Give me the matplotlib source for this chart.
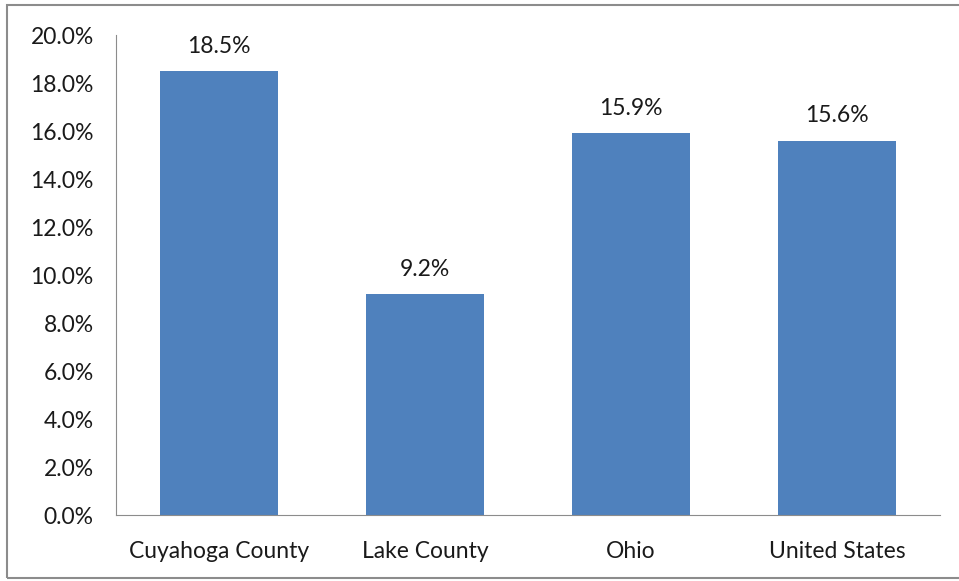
import matplotlib.pyplot as plt
from matplotlib.patches import Rectangle
from matplotlib.ticker import FuncFormatter

plt.rcParams['font.family'] = ['Lato', 'DejaVu Sans']
plt.rcParams['font.size'] = 16.5

regions = ['Cuyahoga County', 'Lake County', 'Ohio', 'United States']
rates = [18.5, 9.2, 15.9, 15.6]

fig = plt.figure(figsize=(9.59, 5.81), dpi=100)
ax = fig.add_axes([116 / 959, 1 - 515 / 581, (940 - 116) / 959, (515 - 35) / 581])

# outer chart frame
fig.patches.append(Rectangle((7 / 959, 3 / 581), 1.0, 1 - 8 / 581, transform=fig.transFigure,
                             fill=False, edgecolor='#8c8c8c', linewidth=1.5))

x = range(len(regions))
bars = ax.bar(x, rates, width=0.57, color='#4f81bd')
for b, v in zip(bars, rates):
    ax.text(b.get_x() + b.get_width() / 2, v + 0.6, f'{v:.1f}%', ha='center', va='bottom',
            color='#1a1a1a')

ax.set_xlim(-0.5, len(regions) - 0.5)
ax.set_ylim(0, 20)
ax.set_yticks([i * 2 for i in range(11)])
ax.yaxis.set_major_formatter(FuncFormatter(lambda v, p: f'{v:.1f}%'))
ax.set_xticks(list(x))
ax.set_xticklabels(regions)
ax.tick_params(length=0, colors='#1a1a1a')
ax.tick_params(axis='y', pad=16)
ax.tick_params(axis='x', pad=19)
for s in ['top', 'right']:
    ax.spines[s].set_visible(False)
for s in ['left', 'bottom']:
    ax.spines[s].set_color('#8c8c8c')

plt.savefig('out.png', dpi=100)
